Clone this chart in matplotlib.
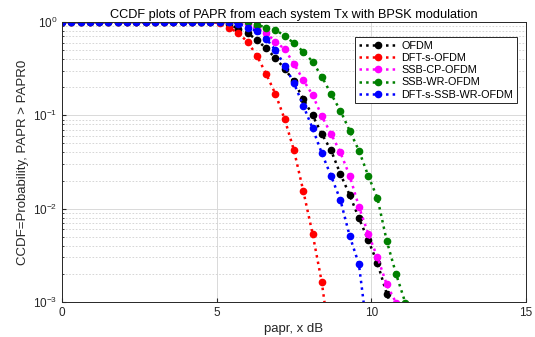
import numpy as np
import matplotlib
matplotlib.use("Agg")
import matplotlib.pyplot as plt
from matplotlib.ticker import LogLocator, NullFormatter

plt.rcParams['font.family'] = ['Liberation Sans', 'DejaVu Sans']

# PAPR grid (dB), 0.3 dB steps
papr_x = np.round(np.arange(0, 11.11, 0.3), 1)

labels = ["OFDM", "DFT-s-OFDM", "SSB-CP-OFDM", "SSB-WR-OFDM", "DFT-s-SSB-WR-OFDM"]
colors = ["#000000", "#ff0000", "#ff00ff", "#008000", "#0000ff"]

# CCDF values (tail only; earlier points are 1.0)
ofdm_x = [5.4, 5.7, 6.0, 6.3, 6.6, 6.9, 7.2, 7.5, 7.8, 8.1, 8.4, 8.7, 9.0, 9.3, 9.6, 9.9, 10.2, 10.5, 10.8]
ofdm_y = [0.95, 0.84, 0.76, 0.64, 0.52, 0.41, 0.315, 0.23, 0.15, 0.10, 0.063, 0.042, 0.0235, 0.014, 0.0079, 0.0046, 0.0026, 0.00122, 0.0007]

dfts_x = [5.1, 5.4, 5.7, 6.0, 6.3, 6.6, 6.9, 7.2, 7.5, 7.8, 8.1, 8.4, 8.7]
dfts_y = [0.97, 0.87, 0.76, 0.61, 0.435, 0.277, 0.169, 0.0906, 0.042, 0.0155, 0.0054, 0.00162, 0.0003]

sscp_x = [6.0, 6.3, 6.6, 6.9, 7.2, 7.5, 7.8, 8.1, 8.4, 8.7, 9.0, 9.3, 9.6, 9.9, 10.2, 10.5, 10.8]
sscp_y = [0.95, 0.84, 0.76, 0.615, 0.51, 0.355, 0.239, 0.165, 0.098, 0.063, 0.040, 0.0225, 0.0105, 0.0054, 0.0030, 0.00154, 0.00098]

sswr_x = [6.0, 6.3, 6.6, 6.9, 7.2, 7.5, 7.8, 8.1, 8.4, 8.7, 9.0, 9.3, 9.6, 9.9, 10.2, 10.5, 10.8, 11.1]
sswr_y = [0.99, 0.93, 0.87, 0.82, 0.71, 0.59, 0.48, 0.375, 0.259, 0.169, 0.112, 0.0684, 0.0418, 0.0225, 0.0129, 0.0045, 0.0020, 0.00098]

dswr_x = [5.7, 6.0, 6.3, 6.6, 6.9, 7.2, 7.5, 7.8, 8.1, 8.4, 8.7, 9.0, 9.3, 9.6, 9.9]
dswr_y = [0.96, 0.87, 0.80, 0.66, 0.50, 0.34, 0.22, 0.127, 0.0726, 0.0392, 0.0223, 0.0124, 0.0051, 0.00253, 0.0004]

tails = [(ofdm_x, ofdm_y), (dfts_x, dfts_y), (sscp_x, sscp_y), (sswr_x, sswr_y), (dswr_x, dswr_y)]

fig = plt.figure(figsize=(5.35, 3.37), dpi=100)
ax = fig.add_axes([0.116, 0.104, 0.867, 0.831])

for (tx, ty), lab, col in zip(tails, labels, colors):
    head = [v for v in papr_x if v < tx[0] - 1e-9]
    xs = list(head) + list(tx)
    ys = [1.0] * len(head) + list(ty)
    ax.semilogy(xs, ys, linestyle=':', marker='o', color=col, linewidth=1.8,
                markersize=4.5, label=lab)

ax.set_xlim(0, 15)
ax.set_ylim(1e-3, 1)
ax.set_xticks([0, 5, 10, 15])
ax.yaxis.set_major_locator(LogLocator(base=10, numticks=10))
ax.yaxis.set_minor_locator(LogLocator(base=10, subs=np.arange(2, 10), numticks=20))
ax.yaxis.set_minor_formatter(NullFormatter())
ax.tick_params(which='both', direction='in', labelsize=8.5, colors='#262626')
ax.tick_params(which='major', length=3)
ax.tick_params(which='minor', length=1.5)

ax.grid(True, which='major', color='#d9d9d9', linewidth=0.7, linestyle='-')
ax.grid(True, which='minor', axis='y', color='#d0d0d0', linewidth=0.6, linestyle=(0, (2, 2)))
ax.set_axisbelow(True)
for s in ax.spines.values():
    s.set_color('#262626')
    s.set_linewidth(0.7)

ax.set_title("CCDF plots of PAPR from each system Tx with BPSK modulation", fontsize=9.2, pad=3)
ax.set_xlabel("papr, x dB", fontsize=9.5, color='#262626', labelpad=3)
ax.set_ylabel("CCDF=Probability, PAPR > PAPR0", fontsize=9.5, color='#262626', labelpad=3)

leg = ax.legend(loc='upper right', bbox_to_anchor=(0.992, 0.965), fontsize=7.8,
                fancybox=False, framealpha=1, edgecolor='#262626',
                handlelength=3.6, borderpad=0.35, labelspacing=0.2, handletextpad=0.3)
leg.get_frame().set_linewidth(0.7)

fig.savefig("out.png", dpi=100, facecolor='white')
